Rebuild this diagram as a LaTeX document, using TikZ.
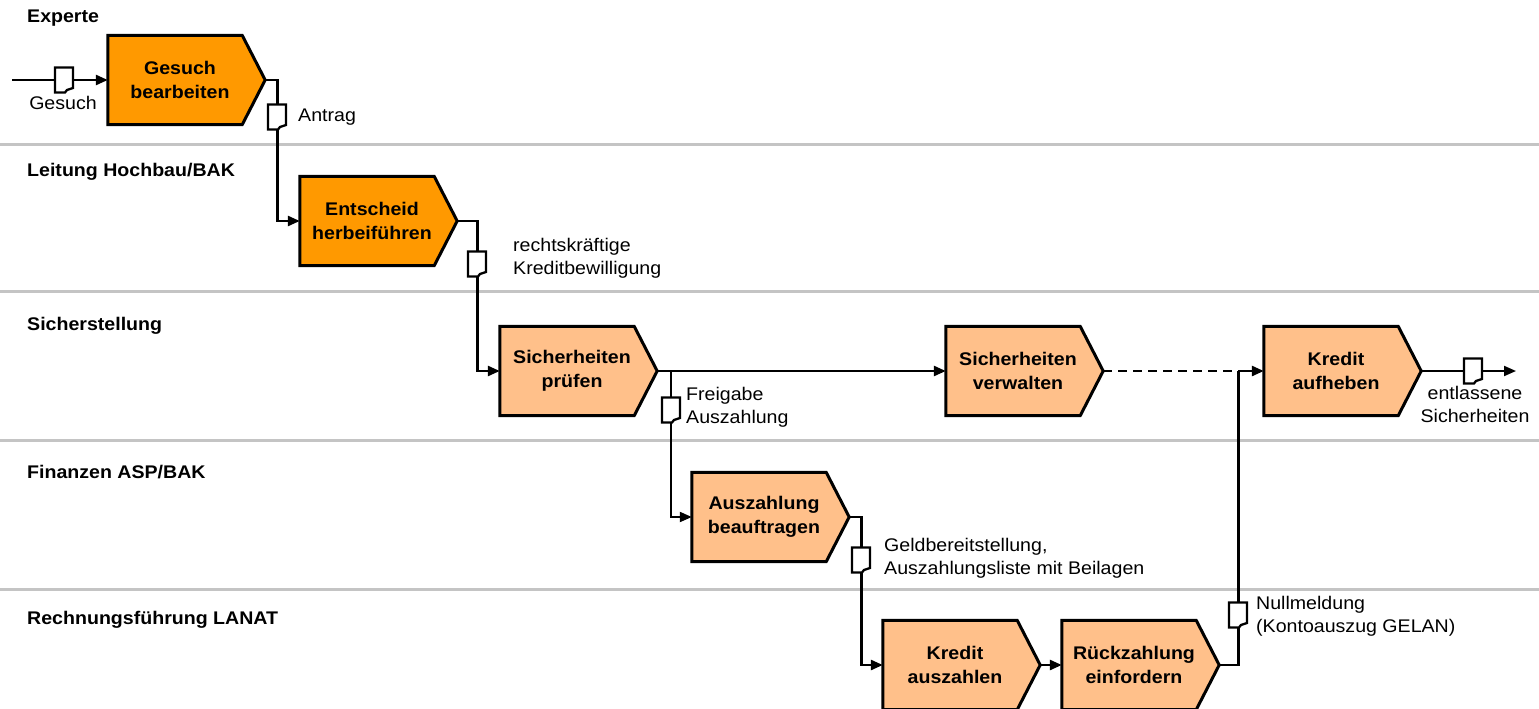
\documentclass[tikz,border=0pt]{standalone}
\usepackage{fontspec}
\setmainfont[FakeStretch=1.07]{Liberation Sans}
\usetikzlibrary{arrows.meta,calc}
\definecolor{dorange}{HTML}{FF9900}
\definecolor{lorange}{HTML}{FFC08A}
\definecolor{lanegray}{HTML}{C4C4C4}
\tikzset{
  lane/.style={draw=lanegray,line width=3pt},
  lanelabel/.style={anchor=west,inner sep=0,font=\fontsize{18.3}{22}\selectfont\bfseries},
  boxshape/.style={minimum width=134pt,minimum height=89pt,inner sep=0,draw=none},
  boxline/.style={draw=black,line width=3pt,line join=miter},
  boxtext/.style={align=center,inner sep=0,font=\fontsize{18.3}{24}\selectfont\bfseries},
  conn/.style={draw=black,line width=2.6pt},
  thinconn/.style={draw=black,line width=2pt},
  arr/.style={-{Triangle[length=12pt,width=10pt]}},
  lbl/.style={inner sep=0,align=left,font=\fontsize{18.3}{23}\selectfont},
  pics/doc/.style={code={
    \draw[fill=white,line width=2.3pt,line join=miter]
      (-9,-12.5) -- (9,-12.5) -- (9,8) -- (3,10) -- (1,12.5) -- (-9,12.5) -- cycle;}}
}
\newcommand\procbox[5]{%
  \node[boxshape] (#1) at (#2,#3) {};
  \draw[boxline,fill=#4] (#1.north west) -- (#1.north east) -- ([xshift=23pt]#1.east)
     -- (#1.south east) -- (#1.south west) -- cycle;
  \coordinate (#1tip) at ([xshift=23pt]#1.east);
  \node[boxtext] (#1txt) at ([xshift=5pt]#1.center) {#5};
}
\begin{document}
\begin{tikzpicture}[x=1pt,y=-1pt]
\useasboundingbox (0,0) rectangle (1539,709);
\clip (0,0) rectangle (1539,709);
% lanes
\draw[lane] (0,144) -- (1539,144);
\draw[lane] (0,291) -- (1539,291);
\draw[lane] (0,440) -- (1539,440);
\draw[lane] (0,589) -- (1539,589);
\node[lanelabel] (l1) at (27,18) {Experte};
\node[lanelabel] (l2) at (27,172) {Leitung Hochbau/BAK};
\node[lanelabel] (l3) at (27,326) {Sicherstellung};
\node[lanelabel] (l4) at (27,472) {Finanzen ASP/BAK};
\node[lanelabel] (l5) at (27,620) {Rechnungsführung LANAT};
% boxes
\procbox{b1}{175}{80}{dorange}{Gesuch\\bearbeiten}
\procbox{b2}{367}{221}{dorange}{Entscheid\\herbeiführen}
\procbox{b3}{567}{371}{lorange}{Sicherheiten\\prüfen}
\procbox{b4}{1013}{371}{lorange}{Sicherheiten\\verwalten}
\procbox{b5}{1331}{371}{lorange}{Kredit\\aufheben}
\procbox{b6}{759}{517}{lorange}{Auszahlung\\beauftragen}
\procbox{b7}{950}{665}{lorange}{Kredit\\auszahlen}
\procbox{b8}{1129}{665}{lorange}{Rückzahlung\\einfordern}
% connectors
\coordinate (inStart) at (12,80);
\coordinate (outEnd) at (1516,371);
\draw[conn,arr] (inStart) -- (b1.west);
\draw[conn,arr] (b1tip) -- ++(12,0) |- (b2.west);
\draw[conn,arr] (b2tip) -- ++(20,0) |- (b3.west);
\draw[conn,arr] (b3tip) -- (b4.west);
\draw[thinconn,arr] ([xshift=14pt]b3tip) |- (b6.west);
\draw[conn,arr] (b6tip) -- ++(12,0) |- (b7.west);
\draw[conn,arr] (b7tip) -- (b8.west);
\coordinate (nullx) at ([xshift=19pt]b8tip);
\coordinate (join) at (nullx |- b5.west);
\draw[conn] (b8tip) -- (nullx) -- (join);
\draw[conn,dashed,dash pattern=on 9pt off 6pt] (b4tip) -- (join);
\draw[conn,arr] (join) -- (b5.west);
\draw[thinconn,arr] (b5tip) -- (outEnd);
% documents
\pic at (64,80) {doc};
\pic at (277,117) {doc};
\pic at (477,264) {doc};
\pic at (671,410) {doc};
\pic at (861,560) {doc};
\pic at (1238,615) {doc};
\pic at (1473,371) {doc};
% labels
\node[lbl,anchor=center] (tGesuch) at (63,103) {Gesuch};
\node[lbl,anchor=west] (tAntrag) at (298,117) {Antrag};
\node[lbl,anchor=north west] (tKredit) at (513,238) {rechtskräftige\\Kreditbewilligung};
\node[lbl,anchor=north west] (tFrei) at (686,387) {Freigabe\\Auszahlung};
\node[lbl,anchor=north west] (tGeld) at (884,538) {Geldbereitstellung,\\Auszahlungsliste mit Beilagen};
\node[lbl,anchor=north west] (tNull) at (1256,596) {Nullmeldung\\(Kontoauszug GELAN)};
\node[lbl,align=center,anchor=north] (tEnt) at (1475,386) {entlassene\\Sicherheiten};
\end{tikzpicture}
\end{document}
